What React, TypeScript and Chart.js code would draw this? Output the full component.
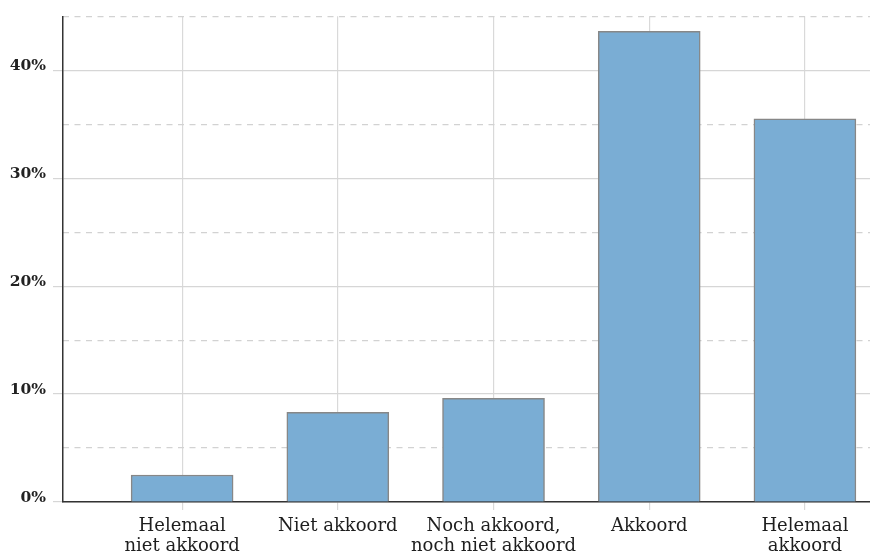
import React, { useEffect, useRef } from "react";
import { Chart, registerables } from "chart.js";

Chart.register(...registerables);

const categories: string[][] = [
  ["Helemaal", "niet akkoord"],
  ["Niet akkoord"],
  ["Noch akkoord,", "noch niet akkoord"],
  ["Akkoord"],
  ["Helemaal", "akkoord"],
];
const values: number[] = [2.5, 8.3, 9.6, 43.6, 35.5];
const yTicks: number[] = [0, 10, 20, 30, 40];
const yMinorTicks: number[] = [5, 15, 25, 35, 45];

const FONT = "'DejaVu Serif', serif";

export default function App() {
  const ref = useRef<HTMLCanvasElement | null>(null);

  useEffect(() => {
    document.body.style.margin = "0";
    const canvas = ref.current;
    if (!canvas) return;
    const chart = new Chart(canvas, {
      type: "bar",
      data: {
        datasets: [
          {
            data: values.map((v, i) => ({ x: i, y: v })),
            backgroundColor: "#7aadd4",
            borderColor: "#878787",
            borderWidth: 1.5,
            barThickness: 102,
          },
        ],
      },
      options: {
        animation: false,
        responsive: false,
        maintainAspectRatio: false,
        layout: { padding: { top: 15, left: 0, right: 0, bottom: 0 } },
        plugins: { legend: { display: false }, tooltip: { enabled: false } },
        scales: {
          x: {
            type: "linear",
            offset: false,
            min: -0.765,
            max: 4.418,
            afterBuildTicks: (scale: any) => {
              scale.ticks = categories.map((_, i) => ({ value: i }));
            },
            afterFit: (scale: any) => {
              scale.height = 56;
            },
            ticks: {
              autoSkip: false,
              maxRotation: 0,
              padding: 6,
              color: "#1e1e1e",
              font: { family: FONT, size: 18, lineHeight: 1.13 },
              callback: (v: any) => categories[v as number],
            },
            grid: {
              offset: false,
              color: "#d9d9d9",
              lineWidth: 1.2,
              tickLength: 8,
              tickColor: "#d9d9d9",
            },
            border: { display: true, color: "#333", width: 1.5 },
          },
          y: {
            type: "linear",
            min: 0,
            max: 45,
            afterBuildTicks: (scale: any) => {
              scale.ticks = yTicks.map((v) => ({ value: v }));
            },
            afterFit: (scale: any) => {
              scale.width = 63;
            },
            ticks: {
              padding: 7,
              labelOffset: -4,
              color: "#222",
              font: { family: FONT, size: 15.5, weight: "bold" },
              callback: (v: any) => `${v}%`,
            },
            grid: {
              color: "#d6d6d6",
              lineWidth: 1.2,
              tickLength: 10,
              tickColor: "#d6d6d6",
            },
            border: { display: true, color: "#333", width: 1.5 },
          },
          y2: {
            type: "linear",
            position: "right",
            min: 0,
            max: 45,
            afterBuildTicks: (scale: any) => {
              scale.ticks = yMinorTicks.map((v) => ({ value: v }));
            },
            afterFit: (scale: any) => {
              scale.width = 0;
            },
            ticks: { display: false },
            grid: {
              color: "#d2d2d2",
              lineWidth: 1.2,
              drawTicks: false,
            },
            border: { display: false, dash: [6, 5.5] },
          },
        },
      },
    } as any);
    return () => chart.destroy();
  }, []);

  return (
    <div style={{ width: 870, height: 558, position: "relative" }}>
      <canvas ref={ref} width={870} height={558} style={{ display: "block" }} />
    </div>
  );
}
